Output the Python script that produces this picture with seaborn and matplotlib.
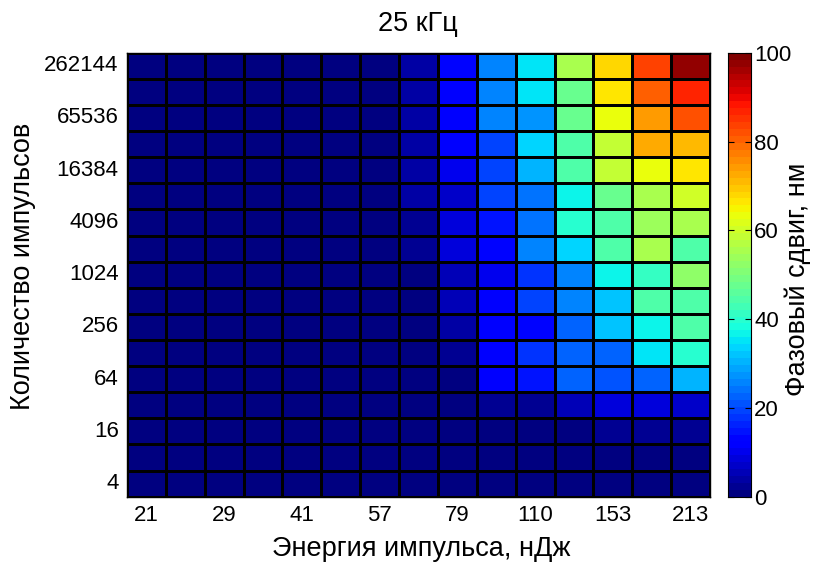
import numpy as np
import pandas as pd
import matplotlib
matplotlib.use("Agg")
import matplotlib.pyplot as plt
import seaborn as sns

# Data
energy = [21, 25, 29, 35, 41, 48, 57, 67, 79, 93, 110, 130, 153, 181, 213]
pulses = [262144, 131072, 65536, 32768, 16384, 8192, 4096, 2048, 1024,
          512, 256, 128, 64, 32, 16, 8, 4]
shown_x = [21, 29, 41, 57, 79, 110, 153, 213]
shown_y = [262144, 65536, 16384, 4096, 1024, 256, 64, 16, 4]

low = [1, 1, 1, 1, 1, 1, 1]
r0 = low + [4, 14, 25, 35, 56, 68, 83, 97]
r1 = low + [4, 12, 26, 35, 47, 66, 80, 86]
r2 = low + [4, 11, 25, 28, 48, 63, 74, 82]
r3 = low + [4, 11, 19, 34, 45, 58, 72, 71]
r4 = low + [4, 10, 20, 30, 44, 58, 63, 66]
r5 = low + [4, 7, 20, 24, 37, 47, 55, 60]
r6 = low + [3, 8, 15, 24, 40, 44, 54, 55]
r7 = low + [2, 8, 14, 26, 33, 44, 55, 45]
r8 = low + [1, 5, 10, 18, 26, 36, 42, 52]
r9 = low + [1, 5, 11, 20, 26, 32, 44, 44]
r10 = low + [1, 4, 11, 13, 23, 32, 37, 44]
r11 = low + [1, 2, 11, 18, 23, 23, 35, 40]
r12 = low + [1, 1, 11, 15, 22, 21, 23, 30]
r13 = low + [1, 1, 2, 3, 5, 8, 8, 7]
r14 = low + [1, 1, 1, 1, 0, 3, 2, 3]
r15 = low + [1, 1, 1, 1, 1, 1, 1, 1]
r16 = low + [1, 1, 1, 1, 1, 1, 1, 1]

rows = [r0, r1, r2, r3, r4, r5, r6, r7, r8, r9, r10, r11, r12, r13, r14, r15, r16]
df = pd.DataFrame(rows, index=pulses, columns=energy)

plt.rcParams['font.family'] = ['Liberation Sans', 'DejaVu Sans']
FS = 16
LFS = 19.5

W, H = 814, 564
fig = plt.figure(figsize=(W/100, H/100), dpi=100)
ax = fig.add_axes([127/W, 1-496.7/H, (710-127)/W, (496.7-52.7)/H])
cax = fig.add_axes([728/W, 1-497/H, (751.5-728)/W, (497-52.7)/H])

cmap = plt.get_cmap('jet', 64)
sns.heatmap(df, ax=ax, cbar_ax=cax, cmap=cmap, vmin=0, vmax=100,
            linewidths=0.75, linecolor='black', cbar=True)

xpos = [energy.index(v) + 0.5 for v in shown_x]
ypos = [pulses.index(v) + 0.5 for v in shown_y]
ax.set_xticks(xpos)
ax.set_xticklabels([str(v) for v in shown_x], rotation=0, fontsize=FS)
ax.set_yticks(ypos)
ax.set_yticklabels([str(v) for v in shown_y], rotation=0, fontsize=FS)
ax.tick_params(axis='both', length=0, pad=6)
ax.set_xlabel('')
ax.set_ylabel('')
for s in ax.spines.values():
    s.set_visible(True)
    s.set_color('black')
    s.set_linewidth(1)

fig.text(418/W, 1-24/H, '25 кГц', ha='center', va='center', fontsize=LFS)
fig.text(421/W, 1-549/H, 'Энергия импульса, нДж', ha='center', va='center', fontsize=LFS)
fig.text(23/W, 1-266/H, 'Количество импульсов', ha='center', va='center',
         rotation=90, fontsize=LFS)
fig.text(798/W, 1-279/H, 'Фазовый сдвиг, нм', ha='center', va='center',
         rotation=90, fontsize=LFS)

cax.set_yticks([0, 20, 40, 60, 80, 100])
cax.tick_params(axis='y', direction='in', length=4, left=True, right=True,
                labelsize=FS, width=0.8, pad=2)
for s in cax.spines.values():
    s.set_visible(True)
    s.set_color('black')
cax.set_ylabel('')

fig.savefig('out.png', dpi=100)
